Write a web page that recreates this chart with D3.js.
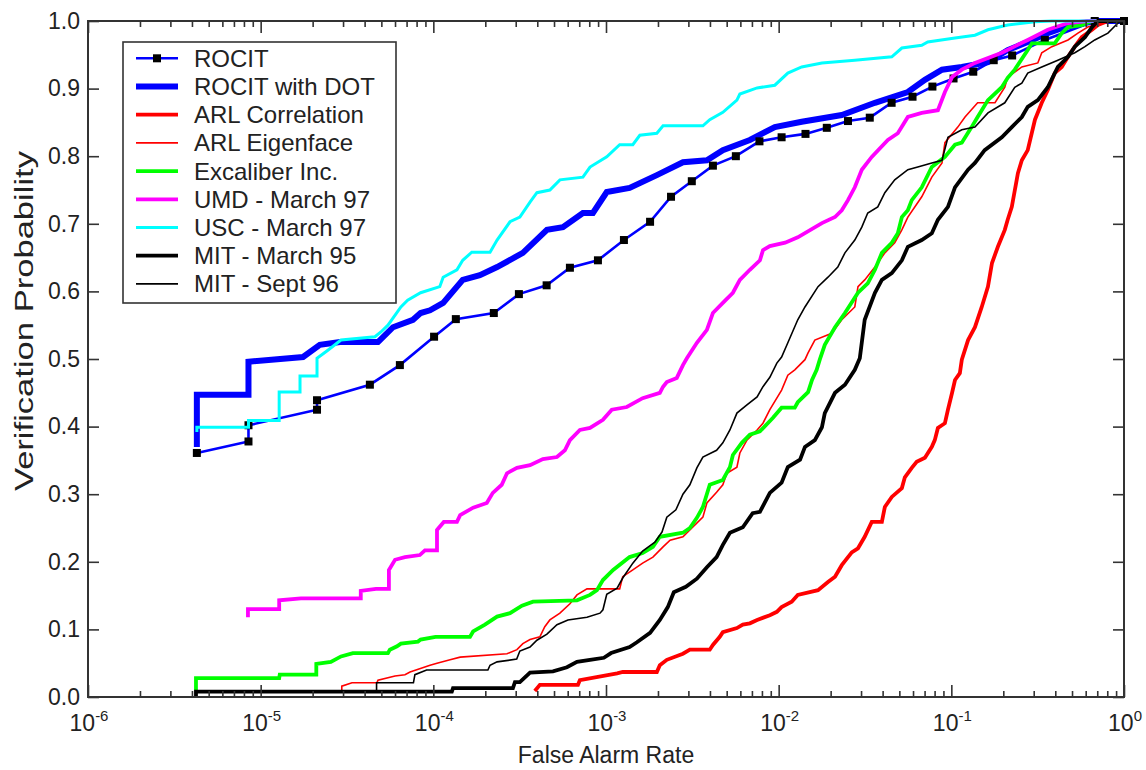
<!DOCTYPE html>
<html><head><meta charset="utf-8">
<script src="https://cdn.jsdelivr.net/npm/d3@7"></script>
<style>body{margin:0;background:#fff}svg{display:block}text{font-family:"Liberation Sans",Arial,sans-serif;fill:#222}</style>
</head><body><svg id="c" width="1146" height="770"></svg>
<script>
// ---- data: [false alarm rate, verification probability] ----
const rocit = [[4.27e-6,.361],[8.5e-6,.378],[8.5e-6,.402],[2.12e-5,.425],[2.12e-5,.439],[4.29e-5,.462],[6.4e-5,.491],[1.01e-4,.533],[1.35e-4,.559],[2.24e-4,.568],[3.13e-4,.596],[4.53e-4,.609],[6.18e-4,.635],[8.98e-4,.646],[1.27e-3,.676],[1.8e-3,.703],[2.38e-3,.740],[3.14e-3,.763],[4.16e-3,.786],[5.65e-3,.800],[7.74e-3,.822],[1.04e-2,.828],[1.43e-2,.833],[1.9e-2,.842],[2.52e-2,.852],[3.37e-2,.857],[4.51e-2,.879],[5.96e-2,.888],[7.77e-2,.903],[.103,.915],[.134,.925],[.176,.942],[.225,.949],[.348,.972],[.677,1],[1,1]];
const rocitDot = [[4.27e-6,.370],[4.27e-6,.447],[8.5e-6,.447],[8.5e-6,.496],[1.76e-5,.503],[2.2e-5,.521],[2.88e-5,.525],[4.78e-5,.525],[5.84e-5,.547],[7.62e-5,.558],[8.44e-5,.568],[9.57e-5,.572],[1.14e-4,.583],[1.48e-4,.617],[1.86e-4,.624],[2.34e-4,.636],[3.3e-4,.657],[4.55e-4,.691],[5.63e-4,.695],[7.35e-4,.716],[8.4e-4,.716],[1.01e-3,.747],[1.37e-3,.753],[1.97e-3,.772],[2.79e-3,.791],[3.84e-3,.794],[4.75e-3,.809],[6.81e-3,.824],[9.5e-3,.843],[1.36e-2,.851],[2.32e-2,.861],[3.61e-2,.879],[5.6e-2,.895],[7.03e-2,.913],[8.83e-2,.928],[.115,.932],[.163,.939],[.212,.957],[.277,.969],[.362,.982],[.454,.991],[.677,1],[1,1]];
const arlCorrelation = [[3.87e-4,.009],[4.14e-4,.018],[6.88e-4,.018],[7.06e-4,.025],[1.16e-3,.035],[1.25e-3,.037],[1.97e-3,.037],[2.05e-3,.047],[2.25e-3,.055],[2.79e-3,.064],[3.06e-3,.070],[3.99e-3,.070],[4.16e-3,.077],[4.56e-3,.089],[4.75e-3,.096],[5.73e-3,.102],[6.2e-3,.107],[6.81e-3,.109],[7.5e-3,.114],[8.89e-3,.121],[9.76e-3,.126],[1.04e-2,.133],[1.19e-2,.141],[1.29e-2,.151],[1.69e-2,.158],[1.93e-2,.170],[2.12e-2,.178],[2.32e-2,.195],[2.65e-2,.214],[2.88e-2,.220],[3.15e-2,.237],[3.46e-2,.259],[3.96e-2,.259],[4.12e-2,.281],[4.52e-2,.296],[5.17e-2,.309],[5.38e-2,.325],[5.9e-2,.339],[6.3e-2,.348],[7.03e-2,.354],[7.71e-2,.370],[8.02e-2,.380],[8.36e-2,.398],[9.18e-2,.405],[9.56e-2,.425],[.101,.450],[.105,.469],[.112,.479],[.115,.499],[.125,.528],[.137,.547],[.150,.577],[.163,.607],[.172,.642],[.186,.666],[.204,.691],[.212,.706],[.224,.725],[.243,.775],[.256,.794],[.277,.809],[.305,.854],[.334,.879],[.362,.898],[.397,.923],[.436,.932],[.474,.947],[.519,.962],[.569,.976],[.653,.987],[.706,.994],[.807,1],[1,1]];
const arlEigenface = [[2.95e-5,.010],[2.95e-5,.016],[3.38e-5,.021],[4.71e-5,.021],[4.78e-5,.025],[6.0e-5,.031],[6.85e-5,.033],[7.33e-5,.037],[9.57e-5,.047],[1.05e-4,.050],[1.25e-4,.055],[1.43e-4,.059],[2.67e-4,.064],[3.05e-4,.070],[3.3e-4,.079],[3.63e-4,.085],[4.14e-4,.089],[4.42e-4,.104],[4.73e-4,.114],[5.41e-4,.124],[6.18e-4,.138],[6.79e-4,.151],[7.76e-4,.160],[1.2e-3,.160],[1.25e-3,.178],[1.43e-3,.188],[1.63e-3,.198],[1.87e-3,.207],[2.14e-3,.222],[2.35e-3,.232],[2.79e-3,.237],[3.64e-3,.266],[3.84e-3,.287],[4.37e-3,.303],[4.75e-3,.314],[5.01e-3,.331],[5.73e-3,.340],[5.96e-3,.361],[6.55e-3,.380],[7.5e-3,.395],[8.11e-3,.405],[8.89e-3,.425],[1.04e-2,.454],[1.13e-2,.476],[1.24e-2,.484],[1.42e-2,.499],[1.48e-2,.509],[1.62e-2,.528],[2.03e-2,.538],[2.32e-2,.558],[2.76e-2,.577],[2.88e-2,.607],[3.15e-2,.617],[3.61e-2,.636],[4.12e-2,.657],[4.7e-2,.672],[5.17e-2,.691],[5.6e-2,.710],[6.74e-2,.740],[7.71e-2,.769],[8.83e-2,.790],[9.18e-2,.820],[.109,.843],[.120,.858],[.142,.879],[.179,.879],[.204,.902],[.212,.917],[.256,.932],[.317,.938],[.334,.953],[.382,.962],[.474,.972],[.541,.982],[.617,.991],[.744,.997],[.807,1],[1,1]];
const excaliber = [[4.22e-6,.010],[4.22e-6,.028],[1.28e-5,.028],[1.29e-5,.033],[2.1e-5,.033],[2.1e-5,.049],[2.55e-5,.052],[2.92e-5,.060],[3.42e-5,.065],[5.46e-5,.065],[5.6e-5,.070],[6.16e-5,.075],[6.49e-5,.079],[8.15e-5,.082],[8.44e-5,.085],[1.03e-4,.089],[1.63e-4,.089],[1.7e-4,.097],[1.99e-4,.107],[2.34e-4,.119],[2.78e-4,.124],[3.26e-4,.135],[3.78e-4,.141],[6.79e-4,.143],[8.08e-4,.151],[8.86e-4,.158],[9.6e-4,.173],[1.1e-3,.188],[1.37e-3,.207],[1.63e-3,.213],[1.87e-3,.222],[2.05e-3,.237],[2.79e-3,.243],[3.06e-3,.250],[3.36e-3,.265],[3.64e-3,.281],[3.99e-3,.314],[4.75e-3,.321],[5.22e-3,.340],[5.43e-3,.358],[6.12e-3,.376],[6.81e-3,.388],[7.79e-3,.393],[9.27e-3,.413],[1.04e-2,.428],[1.24e-2,.428],[1.29e-2,.436],[1.48e-2,.451],[1.56e-2,.469],[1.66e-2,.484],[1.73e-2,.499],[1.85e-2,.521],[2.12e-2,.547],[2.42e-2,.568],[2.88e-2,.598],[3.28e-2,.612],[3.61e-2,.632],[3.96e-2,.657],[4.52e-2,.672],[4.9e-2,.686],[5.17e-2,.710],[5.6e-2,.720],[5.9e-2,.735],[6.74e-2,.754],[7.71e-2,.784],[9.18e-2,.799],[.105,.817],[.115,.820],[.131,.843],[.142,.858],[.163,.883],[.196,.902],[.212,.916],[.233,.928],[.277,.957],[.293,.967],[.397,.967],[.436,.982],[.474,.991],[.569,.994],[.653,1],[1,1]];
const umd97 = [[8.44e-6,.118],[8.44e-6,.130],[1.28e-5,.130],[1.28e-5,.143],[1.71e-5,.146],[3.8e-5,.146],[3.8e-5,.157],[4.65e-5,.160],[5.53e-5,.160],[5.53e-5,.188],[6.0e-5,.203],[6.85e-5,.207],[8.35e-5,.210],[8.94e-5,.217],[1.05e-4,.217],[1.05e-4,.247],[1.15e-4,.259],[1.37e-4,.259],[1.43e-4,.269],[1.7e-4,.280],[2.04e-4,.287],[2.21e-4,.302],[2.49e-4,.314],[2.67e-4,.331],[3.05e-4,.339],[3.63e-4,.343],[4.31e-4,.352],[5.2e-4,.355],[5.78e-4,.365],[6.18e-4,.380],[7.06e-4,.395],[8.08e-4,.398],[9.6e-4,.410],[1.08e-3,.425],[1.32e-3,.429],[1.63e-3,.442],[2.05e-3,.450],[2.14e-3,.459],[2.25e-3,.466],[2.57e-3,.472],[2.79e-3,.491],[2.94e-3,.501],[3.36e-3,.524],[3.84e-3,.543],[4.16e-3,.568],[4.75e-3,.583],[5.43e-3,.598],[5.96e-3,.617],[6.81e-3,.632],[7.79e-3,.646],[8.11e-3,.661],[8.89e-3,.667],[1.09e-2,.672],[1.29e-2,.680],[1.78e-2,.701],[2.12e-2,.710],[2.32e-2,.720],[2.52e-2,.735],[2.76e-2,.754],[3.03e-2,.780],[3.46e-2,.799],[4.29e-2,.824],[4.9e-2,.834],[5.6e-2,.858],[6.74e-2,.864],[8.36e-2,.868],[9.18e-2,.895],[.101,.917],[.115,.928],[.137,.938],[.196,.953],[.277,.972],[.362,.987],[.474,.997],[.617,1],[1,1]];
const usc97 = [[4.27e-6,.392],[4.27e-6,.399],[8.5e-6,.399],[8.5e-6,.409],[1.28e-5,.409],[1.28e-5,.451],[1.69e-5,.451],[1.69e-5,.475],[2.12e-5,.475],[2.12e-5,.501],[2.45e-5,.513],[2.92e-5,.528],[4.59e-5,.533],[4.97e-5,.540],[5.46e-5,.550],[6.49e-5,.577],[7.1e-5,.587],[8.44e-5,.598],[1.09e-4,.607],[1.14e-4,.621],[1.37e-4,.632],[1.48e-4,.646],[1.67e-4,.658],[2.13e-4,.658],[2.34e-4,.676],[2.78e-4,.703],[3.17e-4,.710],[3.63e-4,.732],[3.98e-4,.746],[4.73e-4,.750],[5.41e-4,.765],[7.35e-4,.769],[8.08e-4,.784],[1.01e-3,.799],[1.2e-3,.817],[1.43e-3,.817],[1.57e-3,.831],[1.97e-3,.834],[2.14e-3,.845],[3.64e-3,.845],[3.99e-3,.854],[4.75e-3,.865],[5.73e-3,.883],[5.96e-3,.892],[7.5e-3,.901],[9.5e-3,.905],[1.13e-2,.923],[1.36e-2,.932],[1.78e-2,.938],[2.76e-2,.942],[4.52e-2,.947],[5.17e-2,.960],[6.74e-2,.964],[7.3e-2,.969],[.105,.975],[.137,.979],[.163,.987],[.212,.994],[.305,.999],[.382,1],[1,1]];
const mit95 = [[4.22e-6,0],[4.22e-6,.008],[1.28e-4,.008],[1.3e-4,.013],[2.89e-4,.013],[2.97e-4,.022],[3.17e-4,.022],[3.63e-4,.036],[4.93e-4,.038],[5.94e-4,.044],[6.79e-4,.052],[8.08e-4,.055],[9.72e-4,.058],[1.07e-3,.065],[1.37e-3,.074],[1.51e-3,.081],[1.8e-3,.095],[2.05e-3,.114],[2.28e-3,.133],[2.47e-3,.155],[2.9e-3,.163],[3.36e-3,.175],[3.84e-3,.192],[4.37e-3,.207],[4.75e-3,.225],[5.22e-3,.243],[6.2e-3,.251],[7.07e-3,.272],[7.79e-3,.274],[8.89e-3,.302],[1.04e-2,.317],[1.13e-2,.340],[1.33e-2,.351],[1.42e-2,.370],[1.62e-2,.380],[1.78e-2,.399],[1.85e-2,.420],[2.12e-2,.450],[2.42e-2,.462],[2.76e-2,.484],[2.95e-2,.501],[3.15e-2,.558],[3.61e-2,.598],[3.96e-2,.617],[4.52e-2,.627],[5.17e-2,.646],[5.6e-2,.666],[6.74e-2,.676],[7.71e-2,.686],[8.36e-2,.706],[9.56e-2,.725],[.105,.754],[.125,.780],[.137,.790],[.156,.809],[.196,.828],[.224,.843],[.256,.858],[.277,.873],[.317,.883],[.362,.902],[.414,.932],[.474,.947],[.519,.962],[.594,.976],[.653,.991],[.706,1],[1,1]];
const mit96 = [[4.69e-5,.008],[4.69e-5,.021],[7.67e-5,.021],[7.82e-5,.033],[9.14e-5,.040],[2.07e-4,.040],[2.13e-4,.047],[2.34e-4,.052],[3.04e-4,.056],[3.17e-4,.068],[3.63e-4,.074],[3.98e-4,.084],[4.55e-4,.093],[5.2e-4,.107],[6.02e-4,.114],[7.76e-4,.118],[9.23e-4,.124],[9.6e-4,.129],[1.01e-3,.152],[1.16e-3,.161],[1.25e-3,.176],[1.43e-3,.198],[1.63e-3,.216],[1.92e-3,.229],[2.11e-3,.244],[2.25e-3,.266],[2.54e-3,.277],[2.79e-3,.300],[3.06e-3,.314],[3.36e-3,.339],[3.64e-3,.355],[4.37e-3,.365],[4.75e-3,.376],[5.22e-3,.395],[5.73e-3,.420],[6.55e-3,.432],[7.5e-3,.444],[8.11e-3,.459],[8.89e-3,.473],[9.76e-3,.494],[1.04e-2,.503],[1.13e-2,.524],[1.29e-2,.558],[1.42e-2,.577],[1.69e-2,.607],[1.93e-2,.621],[2.2e-2,.636],[2.42e-2,.657],[2.76e-2,.676],[3.03e-2,.695],[3.28e-2,.716],[3.75e-2,.725],[4.12e-2,.746],[4.7e-2,.765],[5.6e-2,.780],[6.39e-2,.784],[7.71e-2,.790],[8.83e-2,.794],[9.56e-2,.828],[.115,.839],[.137,.843],[.163,.864],[.204,.879],[.233,.902],[.256,.908],[.277,.923],[.334,.932],[.414,.942],[.519,.953],[.594,.962],[.677,.972],[.807,.982],[.922,.997],[.971,1],[1,1]];

const seriesNames = ["ROCIT","ROCIT with DOT","ARL Correlation","ARL Eigenface","Excaliber Inc.","UMD - March 97","USC - March 97","MIT - March 95","MIT - Sept 96"];
const yTicks = [0,.1,.2,.3,.4,.5,.6,.7,.8,.9,1];
const xDecades = [1e-6,1e-5,1e-4,1e-3,1e-2,1e-1,1];
const xTitle = "False Alarm Rate", yTitle = "Verification Probability";

// ---- styles ----
const series = [
  {name:seriesNames[0], data:rocit, color:"#0000ff", w:2.6, marker:true},
  {name:seriesNames[1], data:rocitDot, color:"#0000ff", w:6},
  {name:seriesNames[2], data:arlCorrelation, color:"#ff0000", w:3.8},
  {name:seriesNames[3], data:arlEigenface, color:"#ff0000", w:1.6},
  {name:seriesNames[4], data:excaliber, color:"#00ff00", w:3.8},
  {name:seriesNames[5], data:umd97, color:"#ff00ff", w:3.8},
  {name:seriesNames[6], data:usc97, color:"#00ffff", w:3},
  {name:seriesNames[7], data:mit95, color:"#000000", w:3.8},
  {name:seriesNames[8], data:mit96, color:"#000000", w:1.6}
];

const svg = d3.select("#c");
const L=88, R=1124, T=21, B=697;
const x = d3.scaleLog().domain([1e-6,1]).range([L,R]);
const y = d3.scaleLinear().domain([0,1]).range([B,T]);
const axisColor="#333";

// curves
const line = d3.line().x(d=>x(d[0])).y(d=>y(d[1]));
const order = [1,0,2,3,4,5,6,7,8];
const gLines = svg.append("g");
order.forEach(i=>{
  const s=series[i];
  gLines.append("path").attr("d",line(s.data)).attr("fill","none")
    .attr("stroke",s.color).attr("stroke-width",s.w).attr("stroke-linejoin","miter");
  if(s.marker){
    gLines.append("g").selectAll("rect").data(s.data).join("rect")
      .attr("x",d=>x(d[0])-4).attr("y",d=>y(d[1])-4).attr("width",8).attr("height",8).attr("fill","#000");
  }
});

// axes
const minorVals = [];
xDecades.slice(0,-1).forEach(d=>{for(let k=2;k<=9;k++) minorVals.push(d*k);});
function styleAxis(g){ g.select(".domain").remove(); g.selectAll("line").attr("stroke",axisColor).attr("stroke-width",1.6); }
svg.append("g").attr("transform",`translate(0,${B})`).call(d3.axisBottom(x).tickValues(xDecades).tickSizeInner(-12).tickSizeOuter(0).tickFormat("")).call(styleAxis);
svg.append("g").attr("transform",`translate(0,${B})`).call(d3.axisBottom(x).tickValues(minorVals).tickSizeInner(-6).tickSizeOuter(0).tickFormat("")).call(styleAxis);
svg.append("g").attr("transform",`translate(0,${T})`).call(d3.axisTop(x).tickValues(xDecades).tickSizeInner(-12).tickSizeOuter(0).tickFormat("")).call(styleAxis);
svg.append("g").attr("transform",`translate(0,${T})`).call(d3.axisTop(x).tickValues(minorVals).tickSizeInner(-6).tickSizeOuter(0).tickFormat("")).call(styleAxis);
const gy = svg.append("g").attr("transform",`translate(${L},0)`).call(d3.axisLeft(y).tickValues(yTicks).tickSizeInner(-11).tickSizeOuter(0).tickPadding(8).tickFormat(d3.format(".1f"))).call(styleAxis);
gy.selectAll("text").attr("font-size",23).attr("fill","#222").attr("font-family","Liberation Sans, Arial, sans-serif");
svg.append("g").attr("transform",`translate(${R},0)`).call(d3.axisRight(y).tickValues(yTicks).tickSizeInner(-11).tickSizeOuter(0).tickFormat("")).call(styleAxis);

// x tick labels with superscripts
const xl = svg.append("g").selectAll("text").data(xDecades).join("text")
  .attr("x",d=>x(d)+1).attr("y",731).attr("text-anchor","middle").attr("font-size",23);
xl.append("tspan").text("10");
xl.append("tspan").attr("dy",-10).attr("font-size",15).text(d=>String(Math.round(Math.log10(d))));

// frame
svg.append("rect").attr("x",L).attr("y",T).attr("width",R-L).attr("height",B-T).attr("fill","none").attr("stroke",axisColor).attr("stroke-width",2);

// titles
svg.append("text").attr("x",(L+R)/2).attr("y",763).attr("text-anchor","middle").attr("font-size",23).text(xTitle);
svg.append("text").attr("transform","translate(33,321) rotate(-90)").attr("text-anchor","middle").attr("font-size",26)
  .attr("textLength",340).attr("lengthAdjust","spacingAndGlyphs").text(yTitle);

// legend
const lg = svg.append("g");
lg.append("rect").attr("x",123).attr("y",42).attr("width",273).attr("height",261).attr("fill","#fff").attr("stroke",axisColor).attr("stroke-width",1.6);
series.forEach((s,i)=>{
  const cy = 58.3 + i*28.2;
  lg.append("line").attr("x1",136).attr("x2",178).attr("y1",cy).attr("y2",cy).attr("stroke",s.color).attr("stroke-width",s.w);
  if(s.marker) lg.append("rect").attr("x",153).attr("y",cy-4).attr("width",8).attr("height",8).attr("fill","#000");
  lg.append("text").attr("x",194).attr("y",cy+8.5).attr("font-size",24).text(s.name);
});
</script></body></html>
